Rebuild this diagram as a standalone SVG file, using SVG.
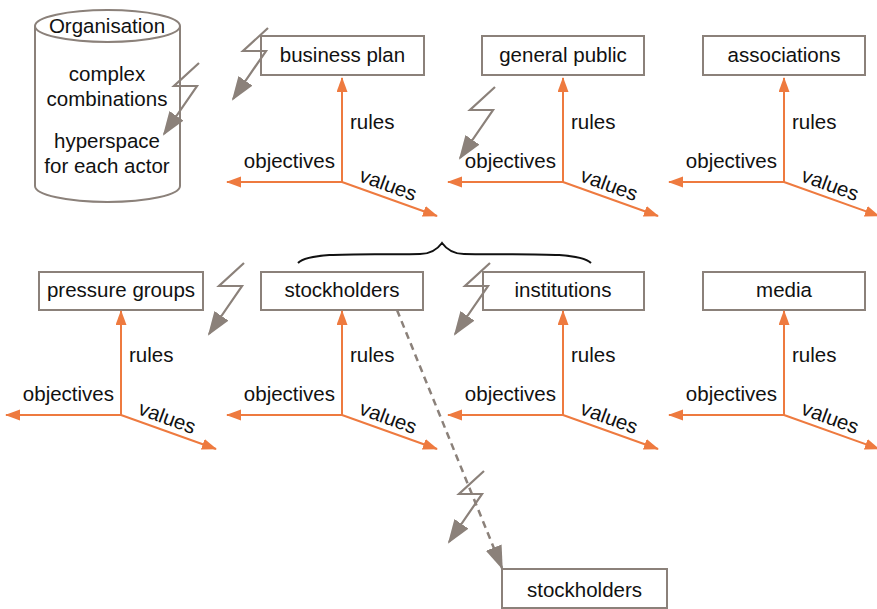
<svg xmlns="http://www.w3.org/2000/svg" xmlns:xlink="http://www.w3.org/1999/xlink" width="877" height="609" viewBox="0 0 877 609">
<style>
text{font-family:"Liberation Sans",Arial,sans-serif;font-size:20.5px;fill:#111}
.c{text-anchor:middle}
.e{text-anchor:end}
.box{fill:#fff;stroke:#8b817a;stroke-width:2}
.ax{fill:none;stroke:#ee7a3f;stroke-width:2;marker-end:url(#oa)}
.bolt{fill:none;stroke:#8b817a;stroke-width:2.2;stroke-linejoin:miter;marker-end:url(#ga)}
.dash{fill:none;stroke:#8b817a;stroke-width:2.5;stroke-dasharray:7 5;marker-end:url(#ga)}
</style>
<defs>
<marker id="oa" markerUnits="userSpaceOnUse" markerWidth="16" markerHeight="12" refX="14" refY="5.5" orient="auto"><path d="M0,0 L15,5.5 L0,11 z" fill="#ee7a3f"/></marker>
<marker id="ga" markerUnits="userSpaceOnUse" markerWidth="26" markerHeight="18" refX="22" refY="8.5" orient="auto"><path d="M0,0 L24,8.5 L0,17 z" fill="#8b817a"/></marker>
<g id="axes">
<path class="ax" d="M0,0 V-104"/>
<path class="ax" d="M0,0 H-115"/>
<path class="ax" d="M0,0 L95,34"/>
<text x="8" y="-53">rules</text>
<text class="e" x="-7" y="-14">objectives</text>
<text x="16" y="-1" transform="rotate(20 16 -1)">values</text>
</g>
<path id="bz" class="bolt" d="M0,0 L-25,23 L-2,23 L-35,71"/>
</defs>
<g id="organisation">
<path class="box" d="M35,26 V186 A72.5,16 0 0 0 180,186 V26"/>
<ellipse class="box" cx="107.5" cy="26" rx="72.5" ry="16"/>
<text class="c" x="107" y="33">Organisation</text>
<text class="c" x="107" y="81">complex</text>
<text class="c" x="107" y="106">combinations</text>
<text class="c" x="107" y="148">hyperspace</text>
<text class="c" x="107" y="173">for each actor</text>
</g>
<g id="business-plan"><rect class="box" x="261" y="36" width="163" height="39"/><text class="c" x="342.5" y="62">business plan</text></g>
<g id="general-public"><rect class="box" x="482" y="36" width="162" height="39"/><text class="c" x="563" y="62">general public</text></g>
<g id="associations"><rect class="box" x="703" y="36" width="162" height="39"/><text class="c" x="784" y="62">associations</text></g>
<g id="pressure-groups"><rect class="box" x="39" y="272" width="164" height="38"/><text class="c" x="121" y="297">pressure groups</text></g>
<g id="stockholders"><rect class="box" x="261" y="272" width="162" height="38"/><text class="c" x="342" y="297">stockholders</text></g>
<g id="institutions"><rect class="box" x="483" y="272" width="161" height="38"/><text class="c" x="563" y="297">institutions</text></g>
<g id="media"><rect class="box" x="703" y="272" width="162" height="38"/><text class="c" x="784" y="297">media</text></g>
<g id="stockholders-2"><rect class="box" x="502" y="569" width="165" height="39"/><text class="c" x="584.5" y="597">stockholders</text></g>
<g id="brace"><path d="M298,263 C310,251 370,255 420,254 Q434,254 442,243 Q450,254 464,254 C520,255 578,251 591,263" fill="none" stroke="#111" stroke-width="2"/></g>
<g id="connectors">
<use xlink:href="#axes" x="342" y="182"/>
<use xlink:href="#axes" x="563" y="182"/>
<use xlink:href="#axes" x="784" y="182"/>
<use xlink:href="#axes" x="121" y="415"/>
<use xlink:href="#axes" x="342" y="415"/>
<use xlink:href="#axes" x="563" y="415"/>
<use xlink:href="#axes" x="784" y="415"/>
<path class="dash" d="M397,310 L502,568"/>
<use xlink:href="#bz" x="199" y="63"/>
<use xlink:href="#bz" x="268" y="28"/>
<use xlink:href="#bz" x="495" y="87"/>
<use xlink:href="#bz" x="244" y="263"/>
<use xlink:href="#bz" x="490" y="263"/>
<use xlink:href="#bz" x="484" y="471"/>
</g>
</svg>
